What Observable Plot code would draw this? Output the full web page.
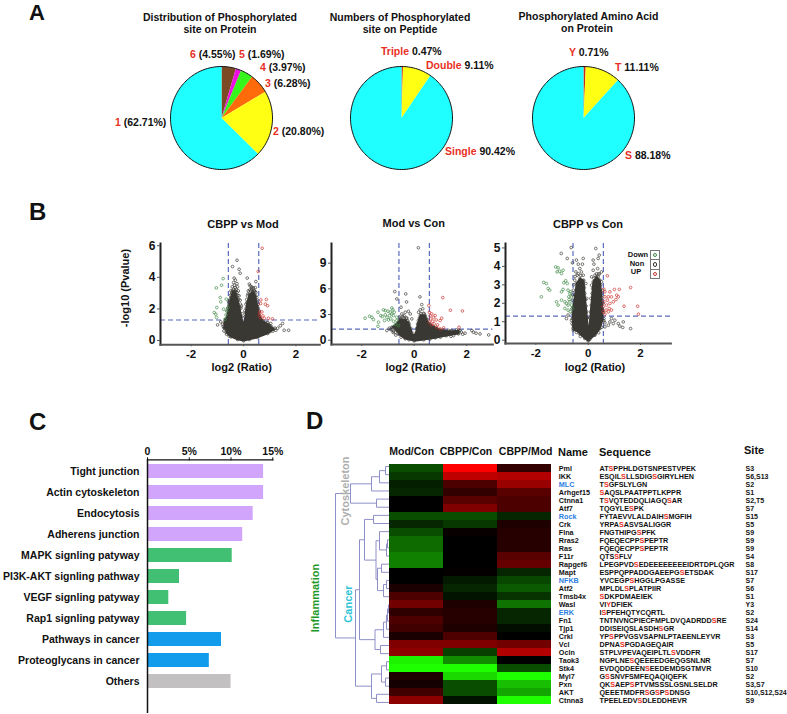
<!DOCTYPE html>
<html><head><meta charset="utf-8">
<script src="https://cdn.jsdelivr.net/npm/d3@7"></script>
<script src="https://cdn.jsdelivr.net/npm/@observablehq/plot@0.6"></script>
<style>
html,body{margin:0;padding:0;background:#fff}
#page{position:relative;width:787px;height:714px;overflow:hidden;background:#fff;font-family:"Liberation Sans",Arial,sans-serif;font-weight:bold;color:#111}
.t{position:absolute;white-space:nowrap;line-height:1.1}
</style></head><body><div id="page"></div>
<script>
// ---------- Panel A ----------
const pie1Shares=[4.55,1.69,3.97,6.28,20.80,62.71];
const pie1Colors=["#7b4a24","#ee10e0","#36f51a","#ff6a0a","#ffff14","#1fffff"];
const pie2Shares=[0.47,9.11,90.42];
const pie2Colors=["#d92a1c","#ffff14","#1fffff"];
const pie3Shares=[0.71,11.11,88.18];
const pie3Colors=["#c8281c","#ffff14","#1fffff"];
// ---------- Panel B: [log2 ratio, -log10 p] ----------
const v1Up=[[.71,5.84],[.66,2.57],[.87,2.6],[.65,2.34],[.83,2.3],[.92,2.2],[.61,1.81],[.7,1.81],[.61,1.62],[.74,1.56],[.64,1.46],[.79,1.41],[.95,1.41],[1.1,1.37],[.56,4.37]];
const v1Down=[[-1.04,3.33],[-.84,3.5],[-.78,3.92],[-.89,2.72],[-.87,2.45],[-.66,2.62],[-1.02,2.09],[-1.12,1.77],[-1.06,1.67],[-1.03,1.46],[-.76,1.98],[-.67,1.62],[-.71,1.35],[-.59,2.09],[-.64,1.88]];
const v1Non=[[-.25,5.08],[-.42,4.68],[-.17,4.51],[-.13,4.26],[.14,3.95],[-.36,3.95],[-.31,3.82],[-.38,3.67],[-.25,3.6],[.47,3.73],[.22,3.57],[.31,3.25],[.41,3.14],[.45,3.35],[-.48,3.14],[1.49,1.08],[1.3,.78],[1.55,.65],[1.72,.65],[1.4,.93],[1.23,.65],[1.1,.72],[.98,.61],[1.04,1.08],[.85,.78],[.89,1.14],[-.99,.99],[-.8,1.03],[-.74,.82],[-.87,1.18],[-.61,.61],[-.55,.5],[-.55,2.3],[-.51,2.62],[-.46,2.93],[-.39,3.25],[-.32,3.35],[-.23,3.4],[-.2,3.14],[-.17,2.83],[-.13,2.55],[-.08,2.19],[-.64,1.03],[-.59,1.41],[-.29,2.89],[-.42,2.72],[.25,3.46],[.34,3.35],[.47,3.04],[.51,2.72],[.56,2.3],[.6,1.88],[.15,2.83],[.09,2.3],[.05,1.88],[.28,3.14],[.18,3.14],[.62,1.29],[.79,1.03],[.92,1.14],[1.07,.87],[1.2,.78],[1.02,.57],[-.62,1.85],[-.6,2.05],[-.57,2.45],[-.53,2.5],[-.5,2.85],[-.45,3.05],[-.43,3.4],[-.35,3.5],[-.28,3.25],[-.25,3.05],[-.22,2.85],[-.18,2.6],[-.12,2.3],[-.1,2.05],[-.05,1.7],[.05,1.5],[.1,2.05],[.12,2.6],[.17,2.95],[.24,3.2],[.3,3.4],[.38,3.3],[.44,3.1],[.5,2.5],[.55,2.05],[.58,1.75],[.66,1.3],[.72,1.15],[.85,1.0],[1,.8],[1.12,.6],[.8,.55],[-.68,1.35],[-.72,1.1],[-.78,.9],[-.75,.6],[-.65,.4],[-.55,.28]];
const v1Cloud=[[-.74,.78],[-.71,1.24],[-.61,1.62],[-.56,2.19],[-.48,2.72],[-.41,3.14],[-.31,3.14],[-.23,2.62],[-.15,2.09],[-.08,1.5],[-.03,1.14],[.03,1.14],[.08,1.77],[.13,2.4],[.23,2.93],[.36,3.1],[.46,2.83],[.53,2.19],[.59,1.62],[.74,1.24],[.98,.99],[1.15,.72],[.92,.44],[.53,.19],[.22,.06],[0,-.02],[-.23,.06],[-.48,.23],[-.66,.51]];
const v2Up=[[1.09,4.98],[1.38,3.5],[1.84,3.42],[.56,4.05],[1.05,2.57],[.99,2.3],[.8,2.88],[.67,3.07],[.58,3.27],[.61,2.88],[.74,2.68],[.63,2.49],[.84,2.37],[.71,2.22],[.58,2.1],[.89,1.79],[.76,1.91],[.66,1.79],[1.71,1.52],[1.12,1.44],[.99,1.32],[.86,1.52]];
const v2Down=[[-1.87,2.57],[-1.7,2.8],[-1.61,2.68],[-1.55,2.41],[-1.38,3.27],[-1.27,2.88],[-1.17,3.54],[-1.1,3.46],[-1,3.39],[-.85,3.77],[-.81,3.54],[-1.21,2.76],[-1.36,2.1],[-1.38,1.63],[-1.13,2.3],[-1.04,2.68],[-.94,2.88],[-.89,2.49],[-1.1,2.96],[-.79,2.88],[-.98,2.37],[-.79,2.22],[-.72,1.83],[-.66,2.3],[-.76,3.27],[-.66,2.68],[-.6,1.71],[-.85,3.07],[-.91,3.27]];
const v2Non=[[.16,10.8],[-.74,5.68],[-.32,5.41],[-.66,4.82],[.22,5.06],[-.29,4.47],[-.5,3.85],[-.47,3.07],[-.34,3.27],[-.22,3.39],[-.15,3.07],[-.41,2.68],[-.28,2.6],[-.09,2.49],[.29,4.16],[.23,3.54],[.33,3.66],[.17,3.27],[.38,3.07],[.29,2.88],[.46,2.37],[-1.04,1.13],[-.85,1.21],[-.79,1.05],[-.72,.93],[-.63,1.21],[1.24,.93],[1.37,.74],[1.56,.82],[1.69,.93],[1.94,.82],[2.2,1.13],[2.26,.93],[2.36,.82],[2.51,.74],[2.84,.62],[1.12,1.05],[.99,.74],[1.43,1.13],[1.62,1.21],[1.75,1.13],[.86,.43],[1.18,.54],[1.5,.54],[-.95,1.4],[-.9,1.25],[-.75,1.6],[-.7,1.5],[-.6,2.15],[-.55,2.7],[-.45,2.75],[-.38,2.85],[-.3,2.55],[-.25,2.3],[-.18,1.85],[-.13,1.4],[.1,1.4],[.16,2.3],[.2,2.6],[.26,3.1],[.36,3.15],[.45,2.6],[.52,2.35],[.6,1.9],[.85,1.4],[1.1,1.2],[1.3,1.15],[1.5,1],[1.8,.95],[1.85,.7],[1.4,.45],[1,.35],[.6,.12],[-.2,.05],[-.5,.35],[-.7,.6],[-.8,.9]];
const v2Cloud=[[-.85,1.52],[-.66,1.91],[-.53,2.49],[-.34,2.37],[-.22,2.1],[-.09,.93],[-.03,.54],[.05,.74],[.13,1.91],[.23,2.88],[.42,2.88],[.51,2.1],[.74,1.6],[.99,1.21],[1.37,1.05],[1.69,1.13],[1.69,.74],[1.24,.54],[.8,.27],[.36,.04],[0,-.08],[-.34,.16],[-.6,.74]];
const v3Up=[[.73,3.49],[1.62,2.85],[1.19,2.75],[1,2.75],[.6,2.75],[.64,2.62],[.83,2.62],[1.09,2.44],[1.15,2.35],[1.06,2.2],[.89,2.35],[.77,2.35],[.64,2.35],[.73,2.17],[.6,2.08],[.83,1.99],[.7,1.9],[.96,2.08],[.57,1.81],[1.37,1.84],[1.89,1.84],[1.92,1.41],[.8,1.72],[.68,1.63],[.57,1.54],[.77,1.54],[.64,1.41],[.89,1.63]];
const v3Down=[[-1.79,2.35],[-1.7,3.13],[-1.6,3.07],[-1.53,2.8],[-1.47,2.71],[-1.24,3.97],[-1.15,3.92],[-1.19,3.7],[-1.09,3.74],[-1.02,3.61],[-.96,3.79],[-.86,3.22],[-.8,3.07],[-.93,3.11],[-1.02,2.62],[-.96,2.75],[-1.21,2.08],[-1.02,2.17],[-.89,2.08],[-1.15,1.9],[-.77,2.71],[-.7,2.53],[-.74,2.35],[-.68,2.62],[-.89,1.72],[-.77,1.9],[-.7,2.08],[-.64,1.9],[-.77,1.63],[-.68,1.54],[-.6,1.72],[-.83,1.99],[-.73,2.2],[-.64,2.35]];
const v3Non=[[-1.03,4.7],[-.8,4.43],[-.65,5.02],[.29,4.97],[.38,4.43],[.42,4.61],[.19,4.34],[.22,4.12],[-.19,4.43],[-.22,4.12],[-.45,4.34],[-.38,4.12],[-.6,4.19],[-.32,3.88],[-.47,3.7],[-.26,3.7],[.36,3.88],[.19,3.79],[.51,3.7],[.42,3.58],[.26,3.52],[.13,3.43],[.89,1.17],[1.02,1.08],[.83,.99],[.96,.9],[.77,.81],[.64,.72],[1.15,.9],[1.21,.76],[1.34,.99],[1.62,.63],[1.32,.69],[-.77,1.36],[-.64,1.08],[-.57,.81],[-.83,1.17],[-.61,1.45],[-.6,2.17],[-.57,2.71],[-.51,3.25],[-.42,3.52],[-.19,3.52],[-.09,3.07],[-.06,2.26],[.1,2.26],[.13,2.98],[.26,3.25],[.38,3.43],[.51,3.16],[.55,2.71],[.57,1.99],[.6,1.17],[.64,.94],[-.62,1.7],[-.6,2.45],[-.55,3],[-.5,3.45],[-.38,3.6],[-.28,3.5],[-.2,3.1],[-.15,2.85],[-.1,2.2],[-.08,1.85],[-.04,1.2],[.06,1.2],[.12,1.9],[.17,2.8],[.22,3.35],[.32,3.6],[.4,3.6],[.48,3],[.53,2.3],[.58,1.5],[.6,1.05],[.52,.7],[.4,.4],[-.62,.9],[-.58,.65],[-.45,.42],[-.3,.2]];
const v3Cloud=[[-.57,.54],[-.6,1.17],[-.57,1.81],[-.51,2.44],[-.45,3.07],[-.32,3.34],[-.17,3.25],[-.13,2.53],[-.06,1.54],[-.01,.72],[.04,.72],[.09,1.54],[.15,2.53],[.19,3.16],[.32,3.43],[.45,3.25],[.51,2.53],[.55,1.63],[.55,1.08],[.45,.63],[.26,.27],[.06,.04],[0,-.04],[-.13,.09],[-.34,.36]];
// ---------- Panel C ----------
const pathways=["Tight junction","Actin cytoskeleton","Endocytosis","Adherens junction","MAPK signling patyway","PI3K-AKT signling pathway","VEGF signling patyway","Rap1 signling patyway","Pathways in cancer","Proteoglycans in cancer","Others"];
const pathwayValues=[13.9,13.9,12.65,11.4,10.14,3.83,2.55,4.68,8.86,7.4,10.0];
const pathwayColors=["#d0a5fb","#d0a5fb","#d0a5fb","#d0a5fb","#41bf73","#41bf73","#41bf73","#41bf73","#139bec","#139bec","#c2c0c1"];
const barTicks=[0,5,10,15];
// ---------- Panel D ----------
const heatColumns=["Mod/Con","CBPP/Con","CBPP/Mod"];
const heatNames=["Pml","IKK","MLC","Arhgef15","Ctnna1","Atf7","Rock","Crk","Flna","Rras2","Ras","F11r","Rapgef6","Mapt","NFKB","Atf2","Tmsb4x","Wasl","ERK","Fn1","Tjp1","Crkl","Vcl","Ocln","Taok3","Stk4","Myl7","Pxn","AKT","Ctnna3"];
// lower case marks the phosphorylated residue
const heatSequences=["ATsPPHLDGTSNPESTVPEK","ESQILsLLSDIGsGIRYLHEN","TsGFSLYLGN","sAQSLPAATPPTLKPPR","TsVQTEDDQLIAGQsAR","TQGYLEsPK","FYTAEVVLALDAIHsMGFIH","YRPAsASVSALIGGR","FNGTHIPGsPFK","FQEQECPPsPEPTR","FQEQECPPsPEPTR","QTSsFLV","LPEGPVDsEDEEEEEEEEIDRTDPLQGR","ESPPQPPADDGAEEPGsETSDAK","YVCEGPsHGGLPGASSE","MPLDLsPLATPIIR","sDKPDMAEIEK","VIyDFIEK","IsPFEHQTYCQRTL","TNTNVNCPIECFMPLDVQADRDDsRE","DDISEIQSLASDHsGR","YPsPPVGSVSAPNLPTAEENLEYVR","DPNAsPGDAGEQAIR","STPLVPEVAQEIPLTLsVDDFR","NGPLNEsQEEEEDGEQGSNLNR","EVDQDDEENsEEDEMDSGTMVR","GsSNVFSMFEQAQIQEFK","QKsAEPsPTVMSSSLGSNLSELDR","QEEETMDFRsGsPsDNSG","TPEELEDVsDLEDDHEVR"];
const heatSites=["S3","S6,S13","S2","S1","S2,T5","S7","S15","S5","S9","S9","S9","S4","S8","S17","S7","S6","S1","Y3","S2","S24","S14","S3","S5","S17","S7","S10","S2","S3,S7","S10,S12,S24","S9"];
const blueNames=["MLC","Rock","NFKB","ERK"];
const modCon=[-.3,-.22,-.12,-.15,0,0,-.3,-.15,-.3,-.42,-.42,-.5,-.5,0,0,.1,.3,.45,.18,.3,.25,.1,.5,.55,-.95,-1,.12,.08,.25,.55];
const cbppCon=[1,.75,.3,.2,.35,.5,-.3,-.22,.03,0,0,0,0,.02,-.1,-.15,-.08,.12,.15,.15,.12,.3,.5,-.25,-.55,-1,-.85,-.3,-.3,-.07];
const cbppMod=[.2,.7,.6,.35,.3,.3,-.15,.12,.15,.15,.15,.35,.4,-.15,-.28,-.35,-.2,-.45,-.15,-.15,-.05,0,.45,.7,0,-.3,-1,-.75,-.65,-1];
// dendrogram: [height, child, child]; numbers are rows
const dendrogram=[54,
 [34,
  [18,[13,0,1],[8,[4,2,3],[3,4,5]]],
  [30,
   [14.5,[9,6,7],[6,8,[3,9,[2,10,[1,11,12]]]]],
   [25,[13.5,[12,[6,13,[3,14,15]],[8,16,17]],[10,[3,18,[2,19,20]],21]],[16,22,23]]]],
 [39,[13,24,25],[18,26,[10,27,[4,28,29]]]]];

// ---------- helpers ----------
const page=document.getElementById("page");
function place(plot,left,top){plot.style.position="absolute";plot.style.left=left+"px";plot.style.top=top+"px";plot.style.background="transparent";page.appendChild(plot);return plot}
function txt(s,x,y,o={}){const d=document.createElement("div");d.className="t";
 if(o.html)d.innerHTML=s;else d.textContent=s;
 d.style.left=x+"px";d.style.top=y+"px";d.style.fontSize=(o.size||11)+"px";
 if(o.color)d.style.color=o.color;if(o.lh)d.style.lineHeight=o.lh;
 const tx=o.anchor==="start"?"0":"-50%";
 d.style.transform=`translate(${tx},-50%)`+(o.rotate?` rotate(${o.rotate}deg)`:"");
 page.appendChild(d);return d}

// ---------- Panel A ----------
function wedges(shares){const out=[];let a=0;
 shares.forEach((s,k)=>{const b=a+s/100*2*Math.PI;const n=Math.max(2,Math.ceil((b-a)*30));
  out.push({k,x:0,y:0});
  for(let i=0;i<=n;i++){const t=a+(b-a)*i/n;out.push({k,x:Math.sin(t),y:Math.cos(t)})}
  a=b});return out}
function pie(shares,colors,cx,cy){
 const rim=d3.range(0,181).map(i=>({x:Math.sin(i/90*Math.PI),y:Math.cos(i/90*Math.PI)}));
 place(Plot.plot({width:106,height:107,margin:2,x:{domain:[-1,1],axis:null},y:{domain:[-1,1],axis:null},
  color:{type:"identity"},
  marks:[Plot.line(wedges(shares),{x:"x",y:"y",z:"k",fill:d=>colors[d.k],stroke:null}),
         Plot.line(rim,{x:"x",y:"y",stroke:"#111",strokeWidth:1})]}),cx-53,cy-53.5)}
pie(pie1Shares,pie1Colors,221.2,117.5);
pie(pie2Shares,pie2Colors,401,117.5);
pie(pie3Shares,pie3Colors,582.5,117.5);
const R=s=>`<span style="color:#e8301f">${s}</span>`;
[["Distribution of Phosphorylated",220,17.7],["site on Protein",220,30],["Numbers of Phosphorylated",400,17.7],["site on Peptide",400,30],["Phosphorylated Amino Acid",588.5,17],["on Protein",587,29.3]]
 .forEach(([s,x,y])=>txt(s,x,y,{size:10.5}));
[[R("6")+" (4.55%)",190,55],[R("5")+" (1.69%)",239,55],[R("4")+" (3.97%)",260,68.3],[R("3")+" (6.28%)",265,84],[R("2")+" (20.80%)",273,131.7],[R("1")+" (62.71%)",115,123.3],
 [R("Triple")+" 0.47%",381,51.7],[R("Double")+" 9.11%",426,66],[R("Single")+" 90.42%",445,152.3],
 [R("Y")+" 0.71%",569,52.7],[R("T")+" 11.11%",615,68.3],[R("S")+" 88.18%",625,156]]
 .forEach(([s,x,y])=>txt(s,x,y,{html:true,anchor:"start",size:10.5}));
txt("A",29,13,{anchor:"start",size:22});
txt("B",29,212,{anchor:"start",size:24});
txt("C",29,422,{anchor:"start",size:24});
txt("D",306,421,{anchor:"start",size:24});

// ---------- Panel B ----------
function volcano(o){const ml=22,mb=18,mt=2,mr=3;
 const dot=(arr,c)=>Plot.dot(arr,{x:d=>d[0],y:d=>d[1],r:1.35,stroke:c,strokeWidth:.8,fill:"none",strokeOpacity:.85});
 const dash={stroke:"#5b6bbd",strokeWidth:1.2,strokeDasharray:"5,3"};
 place(Plot.plot({width:o.right-o.left+ml+mr,height:o.bottom-o.top+mt+mb,marginLeft:ml,marginRight:mr,marginTop:mt,marginBottom:mb,
  style:{fontFamily:"Liberation Sans,Arial,sans-serif",fontWeight:"bold",color:"#111",overflow:"visible"},
  x:{domain:o.xd},y:{domain:o.yd},
  marks:[
   Plot.ruleX([-.58,.58],dash),Plot.ruleY([1.3],dash),
   Plot.line(o.cloud,{x:d=>d[0],y:d=>d[1],fill:"#3a3833",stroke:"#3a3833",strokeWidth:1.5}),
   dot(o.cloud,"#3a3833"),dot(o.non,"#3a3833"),dot(o.down,"#3f8a45"),dot(o.up,"#c9332e"),
   Plot.frame({anchor:"left",stroke:"#222",strokeWidth:2}),
   Plot.frame({anchor:"bottom",stroke:"#555",strokeWidth:2}),
   Plot.axisX({ticks:[-2,0,2],tickSize:2,tickPadding:3,fontSize:11.5,label:null,stroke:"#555",tickFormat:d=>d<0?"-"+(-d):String(d)}),
   Plot.axisY({ticks:o.yt,tickSize:3,tickPadding:2,fontSize:12,label:null,stroke:"#555",tickFormat:d=>String(d)})
  ]}),o.left-ml,o.top-mt);
 txt(o.title,o.tx,o.ty,{size:11});
 txt("log2 (Ratio)",o.lx,366.7,{size:11});
}
volcano({left:159.7,right:319,top:242.7,bottom:344,xd:[-3.17,2.91],yd:[-.27,6.14],yt:[0,2,4,6],non:v1Non,up:v1Up,down:v1Down,cloud:v1Cloud,title:"CBPP vs Mod",tx:243,ty:224,lx:241.7});
volcano({left:331.3,right:492.7,top:243,bottom:344,xd:[-3.15,3.0],yd:[-.5,11.3],yt:[0,3,6,9],non:v2Non,up:v2Up,down:v2Down,cloud:v2Cloud,title:"Mod vs Con",tx:413.7,ty:222.7,lx:415.7});
volcano({left:505.3,right:670.7,top:243.3,bottom:343.3,xd:[-3.16,3.16],yd:[-.18,5.24],yt:[0,1,2,3,4,5],non:v3Non,up:v3Up,down:v3Down,cloud:v3Cloud,title:"CBPP vs Con",tx:588,ty:224,lx:595});
txt("-log10 (Pvalue)",125,288,{size:11,rotate:-90});
// legend
[["Down",638,255],["Non",637,263.5],["UP",636,272]].forEach(([s,x,y])=>txt(s,x,y,{size:7.5}));
const lg=document.createElement("div");lg.style.cssText="position:absolute;left:650px;top:250px;width:8px;height:27px;border:1px solid #777;display:flex;flex-direction:column;";
["#3f8a45","#333","#c9332e"].forEach((c,i)=>{const cell=document.createElement("div");cell.style.cssText="flex:1;display:flex;align-items:center;justify-content:center;"+(i?"border-top:1px solid #777;":"");
 const dt=document.createElement("div");dt.style.cssText=`width:2.4px;height:2.4px;border:.8px solid ${c};border-radius:50%`;cell.appendChild(dt);lg.appendChild(cell)});
page.appendChild(lg);

// ---------- Panel C ----------
const barData=pathways.map((p,i)=>({p,v:pathwayValues[i],c:pathwayColors[i]}));
place(Plot.plot({width:292,height:274,marginLeft:147,marginRight:19.7,marginTop:19.3,marginBottom:1,
 style:{fontFamily:"Liberation Sans,Arial,sans-serif",fontWeight:"bold",color:"#111",overflow:"visible"},
 x:{domain:[0,15]},y:{domain:pathways,range:[20.15,252.25],paddingInner:.32,paddingOuter:.16,axis:null},color:{type:"identity"},
 marks:[
  Plot.barX(barData,{x:"v",y:"p",fill:"c"}),
  Plot.ruleX([0],{stroke:"#111",strokeWidth:1.5}),
  Plot.frame({anchor:"top",stroke:"#111",strokeWidth:1.2}),
  Plot.axisX({anchor:"top",ticks:barTicks,tickSize:3,tickPadding:2,fontSize:10.5,label:null,stroke:"#111",tickFormat:d=>d?d+"%":"0"}),
  Plot.axisY({ticks:pathways,tickSize:0,tickPadding:8,fontSize:10.5,label:null})
 ]}),0,440);

// ---------- Panel D ----------
const heatData=heatNames.flatMap((n,i)=>[modCon[i],cbppCon[i],cbppMod[i]].map((v,j)=>({row:i,col:heatColumns[j],v})));
place(Plot.plot({width:162.4,height:244,margin:0,
 x:{domain:heatColumns,padding:0,axis:null},y:{domain:d3.range(30),padding:0,axis:null},
 color:{type:"linear",domain:[-1,0,1],range:["#1eff00","#000000","#ff0000"],interpolate:"rgb"},
 marks:[Plot.cell(heatData,{x:"col",y:"row",fill:"v",inset:0})]}),389.3,462);
[["Mod/Con",411.7],["CBPP/Con",466],["CBPP/Mod",525.7]].forEach(([s,x])=>txt(s,x,451.7,{size:10.5}));
txt("Name",558,451.7,{anchor:"start",size:11});
txt("Sequence",599,451.7,{anchor:"start",size:11});
txt("Site",744,449.7,{anchor:"start",size:11});
// dendrogram
const dSegs=[];
function walk(n){if(typeof n==="number")return{h:0,y:n+.5};
 const [h,a,b]=n;const A=walk(a),B=walk(b);
 dSegs.push({x1:h,y1:A.y,x2:h,y2:B.y},{x1:h,y1:A.y,x2:A.h,y2:A.y},{x1:h,y1:B.y,x2:B.h,y2:B.y});
 return{h,y:(A.y+B.y)/2}}
walk(dendrogram);
place(Plot.plot({width:60,height:246,marginLeft:1,marginRight:0,marginTop:1,marginBottom:1,
 x:{domain:[59,0],axis:null},y:{domain:[0,30],axis:null},
 marks:[Plot.link(dSegs,{x1:"x1",y1:d=>d.y1,x2:"x2",y2:d=>d.y2,stroke:"#8f90c8",strokeWidth:1})]}),329.3,461);
txt("Cytoskeleton",345,490.7,{size:11,color:"#adadad",rotate:-90});
txt("Cancer",348,604,{size:11,color:"#2bc4d8",rotate:-90});
txt("Inflammation",315,598,{size:11,color:"#1f9a2a",rotate:-90});
// row text
const rows=d3.range(30);
const textPlot=place(Plot.plot({width:232,height:256,margin:0,
 style:{fontFamily:"Liberation Sans,Arial,sans-serif",fontWeight:"bold",color:"#111"},
 y:{domain:rows,range:[4.6,252.4],padding:0,axis:null},color:{type:"identity"},
 marks:[
  Plot.text(rows,{y:d=>d,text:i=>heatNames[i],frameAnchor:"left",textAnchor:"start",dx:3.3,fontSize:7.2,fill:i=>blueNames.includes(heatNames[i])?"#2a7de1":"#111"}),
  Plot.text(rows,{y:d=>d,text:i=>heatSequences[i],frameAnchor:"left",textAnchor:"start",dx:44,fontSize:7.2,fill:"#111"}),
  Plot.text(rows,{y:d=>d,text:i=>heatSites[i],frameAnchor:"left",textAnchor:"start",dx:190,fontSize:7,fill:"#111"})
 ]}),555,455);
textPlot.querySelectorAll("text").forEach(t=>{
 const s=t.textContent;if(!heatSequences.includes(s))return;t.textContent="";
 for(const m of s.match(/[A-Z]+|[a-z]/g)){const ts=document.createElementNS("http://www.w3.org/2000/svg","tspan");
  if(m===m.toLowerCase()){ts.setAttribute("fill","#e8301f");ts.textContent=m.toUpperCase()}else ts.textContent=m;
  t.appendChild(ts)}});
</script></body></html>
